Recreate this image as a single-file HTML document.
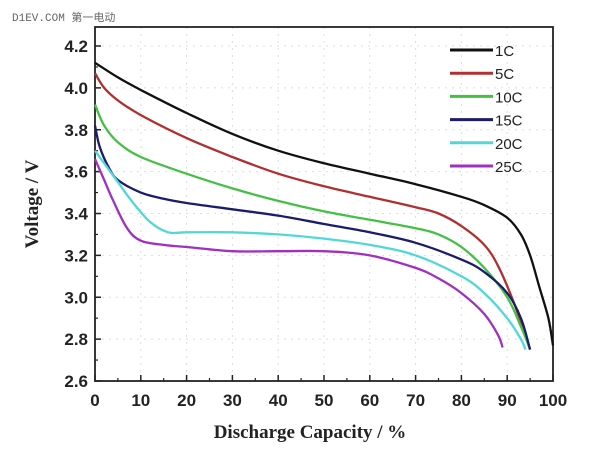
<!DOCTYPE html>
<html><head><meta charset="utf-8"><style>
body{margin:0;background:#fff;}
svg{display:block;}
</style></head><body>
<svg id="chart" width="600" height="464" viewBox="0 0 600 464" xmlns="http://www.w3.org/2000/svg">
<text x="12" y="21" font-family="'Liberation Mono','Noto Sans CJK SC',monospace" font-size="11" fill="#666">D1EV.COM 第一电动</text>
<g id="grid"></g>
<g id="axes"></g>
<g id="series"></g>
<g id="legend"></g>
<text x="310" y="438" text-anchor="middle" font-family="'Liberation Serif',serif" font-weight="bold" font-size="19" fill="#222">Discharge Capacity / %</text>
<text transform="translate(38,204) rotate(-90)" text-anchor="middle" font-family="'Liberation Serif',serif" font-weight="bold" font-size="19" fill="#222">Voltage / V</text>
</svg>
<script>
const xTicks = [0,10,20,30,40,50,60,70,80,90,100];
const yTicks = [2.6,2.8,3.0,3.2,3.4,3.6,3.8,4.0,4.2];
const seriesNames = ["1C","5C","10C","15C","20C","25C"];
const seriesColors = ["#111111","#b03030","#44c044","#1c1c6c","#50d8d8","#a030c0"];
const cap1C = [0,5,10,20,30,40,50,60,70,80,85,90,93,95,97,99,100];
const volt1C = [4.12,4.05,3.99,3.88,3.78,3.70,3.64,3.59,3.54,3.48,3.44,3.38,3.30,3.20,3.05,2.90,2.77];
const cap5C = [0,2,5,10,20,30,40,50,60,70,75,80,85,88,91,93,95];
const volt5C = [4.07,4.00,3.94,3.87,3.76,3.67,3.59,3.53,3.48,3.43,3.40,3.34,3.25,3.15,3.00,2.88,2.75];
const cap10C = [0,2,5,10,20,30,40,50,60,70,75,80,85,90,93,95];
const volt10C = [3.92,3.82,3.74,3.67,3.59,3.52,3.46,3.41,3.37,3.33,3.30,3.24,3.14,3.00,2.86,2.75];
const cap15C = [0,1,3,5,10,15,20,30,40,50,60,70,80,85,90,93,95];
const volt15C = [3.82,3.72,3.62,3.56,3.50,3.47,3.45,3.42,3.39,3.35,3.31,3.26,3.18,3.12,3.02,2.90,2.75];
const cap20C = [0,2,5,8,12,16,20,30,40,50,60,70,80,85,90,93,94];
const volt20C = [3.70,3.64,3.55,3.46,3.36,3.31,3.31,3.31,3.30,3.28,3.25,3.20,3.10,3.02,2.90,2.80,2.75];
const cap25C = [0,2,4,7,10,15,20,30,40,50,60,70,75,80,85,88,89];
const volt25C = [3.66,3.56,3.46,3.33,3.27,3.25,3.24,3.22,3.22,3.22,3.20,3.14,3.09,3.02,2.92,2.82,2.76];
const caps = [cap1C,cap5C,cap10C,cap15C,cap20C,cap25C];
const volts = [volt1C,volt5C,volt10C,volt15C,volt20C,volt25C];

const NS="http://www.w3.org/2000/svg";
const L=95,R=553,T=27,B=381;
const xMin=0,xMax=100,yMin=2.6,yMax=4.2;
const yTop=46;
function xs(v){return L+(v-xMin)/(xMax-xMin)*(R-L);}
function ys(v){return B-(v-yMin)/(yMax-yMin)*(B-yTop);}
function mk(tag,attrs,parent){const e=document.createElementNS(NS,tag);for(const k in attrs)e.setAttribute(k,attrs[k]);parent.appendChild(e);return e;}
function smooth(pts){
  let d='M'+pts[0][0].toFixed(1)+','+pts[0][1].toFixed(1);
  for(let i=0;i<pts.length-1;i++){
    const p0=pts[Math.max(0,i-1)],p1=pts[i],p2=pts[i+1],p3=pts[Math.min(pts.length-1,i+2)];
    const t=0.5/3;
    const c1=[p1[0]+(p2[0]-p0[0])*t,p1[1]+(p2[1]-p0[1])*t];
    const c2=[p2[0]-(p3[0]-p1[0])*t,p2[1]-(p3[1]-p1[1])*t];
    d+=' C'+c1[0].toFixed(1)+','+c1[1].toFixed(1)+' '+c2[0].toFixed(1)+','+c2[1].toFixed(1)+' '+p2[0].toFixed(1)+','+p2[1].toFixed(1);
  }
  return d;
}
const grid=document.getElementById('grid'),axes=document.getElementById('axes'),ser=document.getElementById('series'),leg=document.getElementById('legend');

xTicks.forEach((t,i)=>{
  if(i>0&&i<xTicks.length-1){const g=mk('line',{x1:xs(t),x2:xs(t),y1:T,y2:B,stroke:'#ddd','stroke-dasharray':'2 5','stroke-width':1},grid);
  
  }
  const tk=mk('line',{x1:xs(t),x2:xs(t),y1:B,y2:B-6,stroke:'#222','stroke-width':1.5},axes);
  
  
  if(i<xTicks.length-1){const m=mk('line',{x1:xs(t+5),x2:xs(t+5),y1:B,y2:B-3,stroke:'#222','stroke-width':1.2},axes);
  
  }
  const lb=mk('text',{x:xs(t),y:406,'text-anchor':'middle','font-family':"'Liberation Sans',sans-serif",'font-weight':'bold','font-size':17,fill:'#222'},axes);
  lb.textContent=t;
  
  
});
yTicks.forEach((t,i)=>{
  if(i>0){const g=mk('line',{x1:L,x2:R,y1:ys(t),y2:ys(t),stroke:'#ddd','stroke-dasharray':'2 5','stroke-width':1},grid);
  
  }
  const tk=mk('line',{x1:L,x2:L+6,y1:ys(t),y2:ys(t),stroke:'#222','stroke-width':1.5},axes);
  
  
  if(i<yTicks.length-1){const m=mk('line',{x1:L,x2:L+3,y1:ys(t+0.1),y2:ys(t+0.1),stroke:'#222','stroke-width':1.2},axes);
  
  }
  const lb=mk('text',{x:88,y:ys(t)+6,'text-anchor':'end','font-family':"'Liberation Sans',sans-serif",'font-weight':'bold','font-size':17,fill:'#222'},axes);
  lb.textContent=t.toFixed(1);
  
  
});
const frame=mk('rect',{x:L,y:T,width:R-L,height:B-T,fill:'none',stroke:'#222','stroke-width':1.8},axes);



seriesNames.forEach((n,i)=>{
  const pts=caps[i].map((c,j)=>[xs(c),ys(volts[i][j])]);
  const p=mk('path',{d:smooth(pts),fill:'none',stroke:seriesColors[i],'stroke-width':2.3,'stroke-linejoin':'round'},ser);
  
  
  const y=50+i*23.2;
  const ll=mk('line',{x1:450,x2:493,y1:y,y2:y,stroke:seriesColors[i],'stroke-width':3},leg);
  
  
  const lt=mk('text',{x:495,y:y+6,'font-family':"'Liberation Sans',sans-serif",'font-size':15,fill:'#222'},leg);
  lt.textContent=n;
  
  
});
</script>
</body></html>
